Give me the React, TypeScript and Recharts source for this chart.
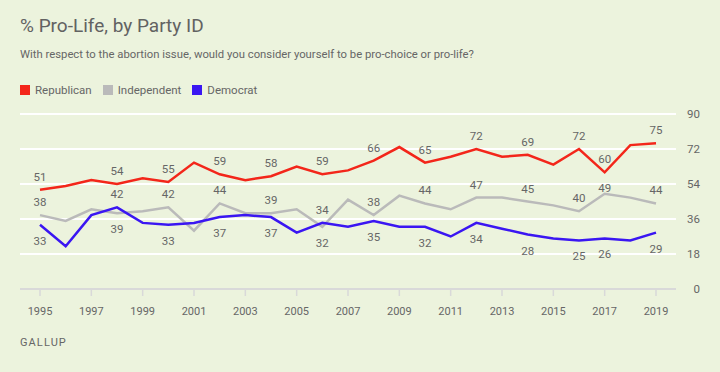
import React from 'react';
import { LineChart, Line, XAxis, YAxis, CartesianGrid, LabelList } from 'recharts';

const years = [
  1995, 1996, 1997, 1998, 1999, 2000, 2001, 2002, 2003, 2004, 2005, 2006, 2007,
  2008, 2009, 2010, 2011, 2012, 2013, 2014, 2015, 2016, 2017, 2018, 2019,
];
const republican = [51, 53, 56, 54, 57, 55, 65, 59, 56, 58, 63, 59, 61, 66, 73, 65, 68, 72, 68, 69, 64, 72, 60, 74, 75];
const independent = [38, 35, 41, 39, 40, 42, 30, 44, 39, 39, 41, 32, 46, 38, 48, 44, 41, 47, 47, 45, 43, 40, 49, 47, 44];
const democrat = [33, 22, 38, 42, 34, 33, 34, 37, 38, 37, 29, 34, 32, 35, 32, 32, 27, 34, 31, 28, 26, 25, 26, 25, 29];
const labeledYears = [1995, 1998, 2000, 2002, 2004, 2006, 2008, 2010, 2012, 2014, 2016, 2017, 2019];
const xTicks = [1995, 1997, 1999, 2001, 2003, 2005, 2007, 2009, 2011, 2013, 2015, 2017, 2019];
const yTicks = [0, 18, 36, 54, 72, 90];

const RED = '#f3261a';
const GRAY = '#bababa';
const BLUE = '#3a16f2';
const TEXT = '#666666';
const BG = '#ecf3dd';
const FONT = 'Roboto, "Noto Sans", sans-serif';

const data = years.map((year, i) => ({
  year,
  rep: republican[i],
  ind: independent[i],
  dem: democrat[i],
}));

// label above or below the point, depending on which line sits higher
const makeLabel = (series: 'rep' | 'ind' | 'dem') => (props: any) => {
  const { x, y, index, value } = props;
  const year = years[index];
  if (!labeledYears.includes(year)) return null;
  let above = true;
  if (series === 'ind') above = independent[index] >= democrat[index];
  if (series === 'dem') above = democrat[index] > independent[index];
  let dy = above ? -13 : 16;
  // keep the 2017 independent label clear of the republican one
  if (series === 'ind' && year === 2017) dy = -6;
  return (
    <text
      x={x}
      y={y + dy}
      textAnchor="middle"
      dominantBaseline="central"
      fill={TEXT}
      fontSize={11.5}
      fontFamily={FONT}
    >
      {value}
    </text>
  );
};

const RightTick = (props: any) => {
  const { x, y, payload } = props;
  return (
    <text x={x + 24} y={y} textAnchor="end" dominantBaseline="central" fill={TEXT} fontSize={11.5} fontFamily={FONT}>
      {payload.value}
    </text>
  );
};

const legendItems = [
  { name: 'Republican', color: RED },
  { name: 'Independent', color: GRAY },
  { name: 'Democrat', color: BLUE },
];

export default function App() {
  return (
    <div
      style={{
        position: 'absolute',
        left: 0,
        top: 0,
        width: 720,
        height: 372,
        background: BG,
        fontFamily: FONT,
        color: TEXT,
        overflow: 'hidden',
      }}
    >
      <div style={{ position: 'absolute', left: 20, top: 14, fontSize: 19, color: '#626262', lineHeight: '24px' }}>
        % Pro-Life, by Party ID
      </div>
      <div style={{ position: 'absolute', left: 20, top: 47, fontSize: 11.3, lineHeight: '16px' }}>
        With respect to the abortion issue, would you consider yourself to be pro-choice or pro-life?
      </div>
      <div style={{ position: 'absolute', left: 20, top: 83, display: 'flex', alignItems: 'center', fontSize: 11.5 }}>
        {legendItems.map((item) => (
          <div key={item.name} style={{ display: 'flex', alignItems: 'center', marginRight: 11 }}>
            <span style={{ width: 10, height: 10, background: item.color, marginRight: 5, display: 'inline-block' }} />
            <span>{item.name}</span>
          </div>
        ))}
      </div>

      <div style={{ position: 'absolute', left: 0, top: 0 }}>
        <LineChart width={720} height={372} data={data} margin={{ top: 114, right: 0, bottom: 53, left: 20 }}>
          <CartesianGrid horizontal vertical={false} stroke="#ffffff" strokeWidth={2} />
          <XAxis
            dataKey="year"
            type="number"
            domain={[1995, 2019]}
            ticks={xTicks}
            padding={{ left: 20, right: 20 }}
            height={30}
            axisLine={{ stroke: '#d9d9d9', strokeWidth: 2 }}
            tickLine={{ stroke: '#d9d9d9', strokeWidth: 1.5 }}
            tickSize={7}
            tickMargin={11}
            tick={{ fill: TEXT, fontSize: 11, fontFamily: FONT }}
          />
          <YAxis
            orientation="right"
            type="number"
            domain={[0, 90]}
            ticks={yTicks}
            width={44}
            axisLine={false}
            tickLine={false}
            tickSize={0}
            tickMargin={0}
            tick={<RightTick />}
          />
          <Line dataKey="ind" stroke={GRAY} strokeWidth={2.5} dot={false} activeDot={false} isAnimationActive={false}>
            <LabelList dataKey="ind" content={makeLabel('ind')} />
          </Line>
          <Line dataKey="dem" stroke={BLUE} strokeWidth={2.5} dot={false} activeDot={false} isAnimationActive={false}>
            <LabelList dataKey="dem" content={makeLabel('dem')} />
          </Line>
          <Line dataKey="rep" stroke={RED} strokeWidth={2.5} dot={false} activeDot={false} isAnimationActive={false}>
            <LabelList dataKey="rep" content={makeLabel('rep')} />
          </Line>
        </LineChart>
      </div>

      <div style={{ position: 'absolute', left: 20, top: 336, fontSize: 11, letterSpacing: 1.1 }}>GALLUP</div>
    </div>
  );
}
